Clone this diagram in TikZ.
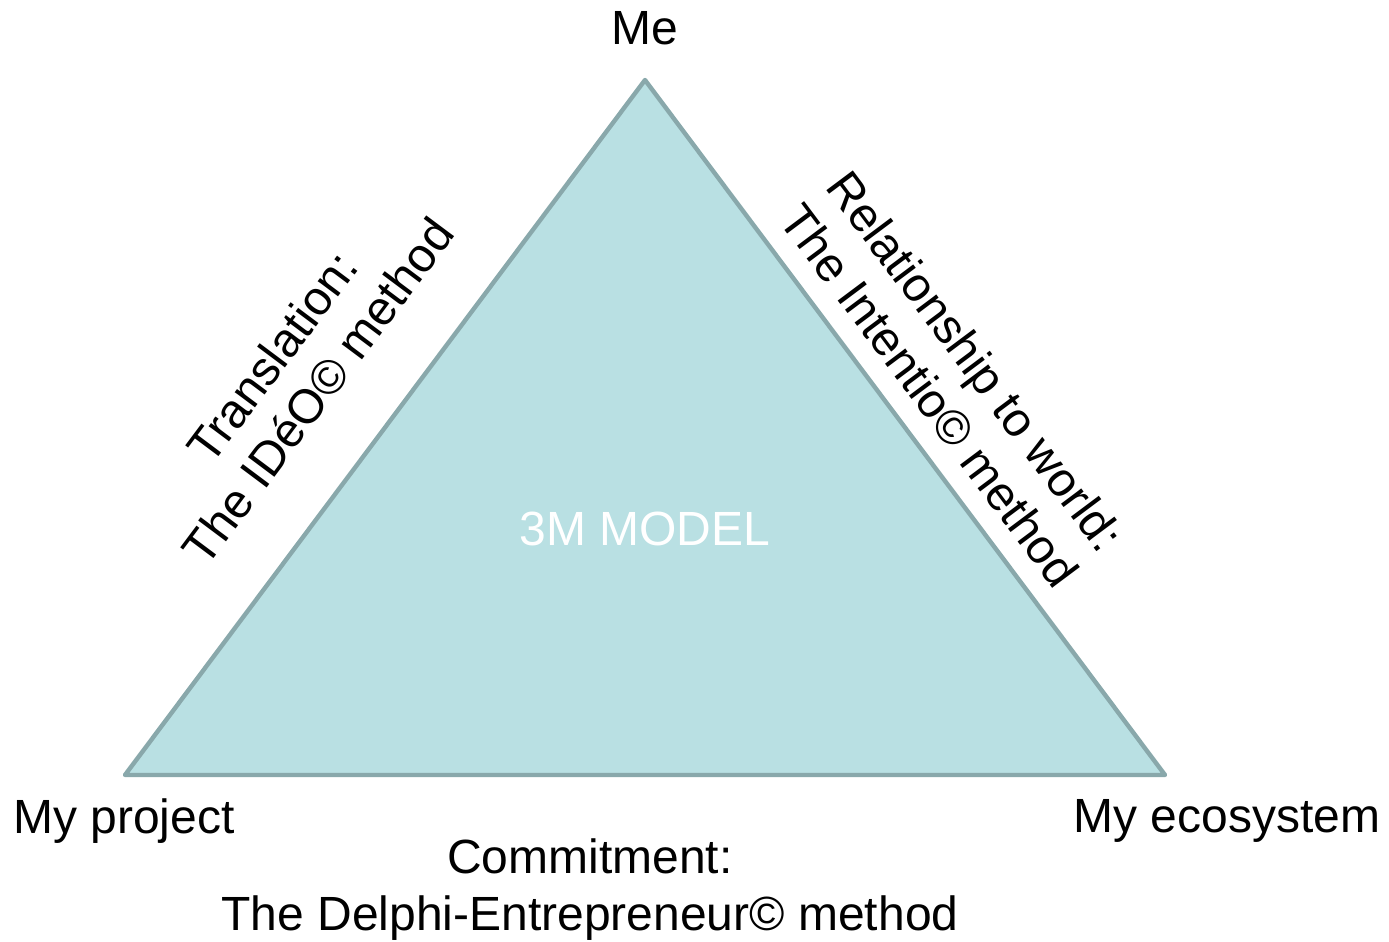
\documentclass[tikz,border=0pt]{standalone}
\usepackage{fontspec}
\setmainfont{Liberation Sans}
\definecolor{trifill}{HTML}{B9E0E3}
\definecolor{tristroke}{HTML}{89A8AB}
\begin{document}
\begin{tikzpicture}[x=0.5pt,y=-0.5pt,
  lbl/.style={font=\fontsize{24}{28.5}\selectfont, align=center, inner sep=0pt},
  tri/.style={fill=trifill, draw=tristroke, line width=2.2pt, line join=round}]
\useasboundingbox (0,0) rectangle (1389,942);
\coordinate (top) at (645,80);
\coordinate (bl) at (125,775);
\coordinate (br) at (1165,775);
\draw[tri] (top) -- (bl) -- (br) -- cycle;
\node[lbl] (me) at (645,28) {Me};
\node[lbl] (proj) at (124,821) {My project};
\node[lbl] (eco) at (1227,821) {My ecosystem};
\node[lbl, text=white] (model) at (645,529) {3M MODEL};
\node[lbl, rotate=53.2] (trans) at (295,374) {Translation:\\The IDéO© method};
\node[lbl, rotate=-53.2] (rel) at (953,378) {Relationship to world:\\The Intentio© method};
\node[lbl] (comm) at (590,890) {Commitment:\\The Delphi-Entrepreneur© method};
\end{tikzpicture}
\end{document}
